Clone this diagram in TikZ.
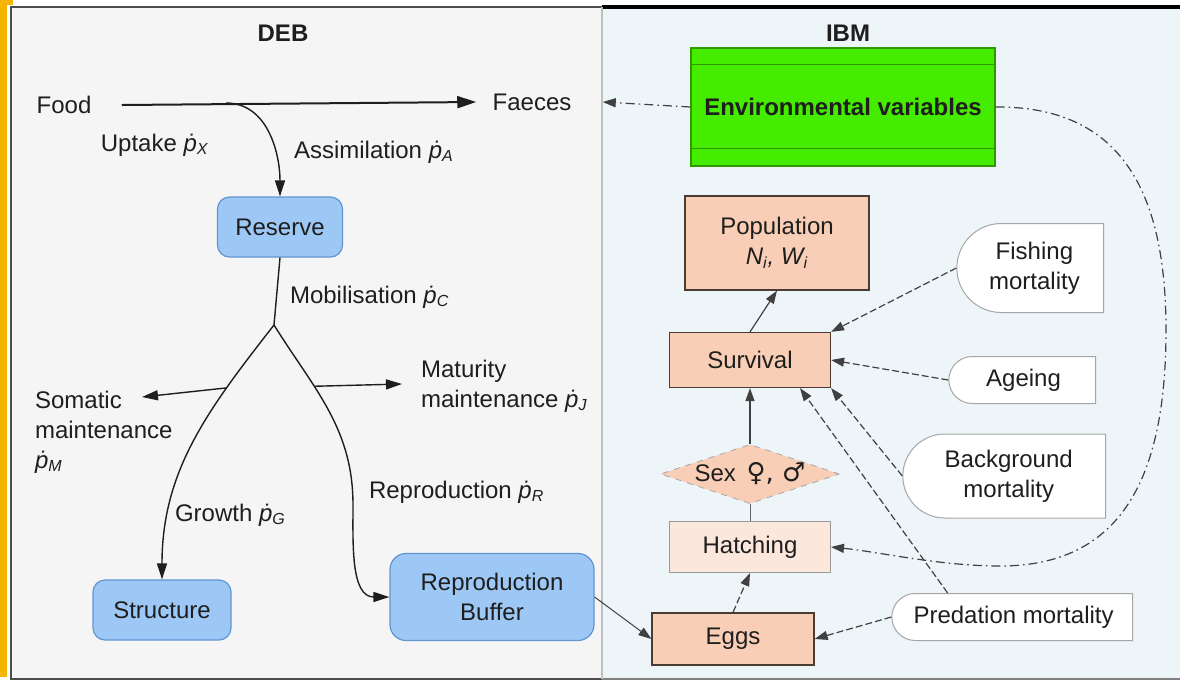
\documentclass[tikz,border=0pt]{standalone}
\usepackage{fontspec}
\setmainfont{Liberation Sans}
\newfontfamily\gendersym{DejaVu Sans}
\usetikzlibrary{positioning, shapes.geometric, shapes.misc, arrows.meta, calc}
\definecolor{debbg}{HTML}{F5F5F5}
\definecolor{ibmbg}{HTML}{EEF5F9}
\definecolor{frameyel}{HTML}{F5B400}
\definecolor{debblue}{HTML}{9DC8F6}
\definecolor{debedge}{HTML}{6195D2}
\definecolor{peach}{HTML}{F9CEB6}
\definecolor{peachlt}{HTML}{FCE7DC}
\definecolor{peachedge}{HTML}{4A3B33}
\definecolor{envgreen}{HTML}{46EC00}
\definecolor{envedge}{HTML}{2E9A00}
\definecolor{ink}{HTML}{1E1E1E}
\newcommand{\flux}[1]{\textit{\.p}\textsubscript{\textit{#1}}}

\begin{document}
\begin{tikzpicture}[x=0.5pt, y=-0.5pt,
  font=\fontsize{12}{15}\selectfont, text=ink,
  >={Triangle[length=6.5pt,width=4.5pt]},
  title/.style={font=\fontsize{12}{15}\selectfont\bfseries},
  debbox/.style={draw=debedge, fill=debblue, rounded corners=6pt, line width=0.6pt, align=center},
  ibmbox/.style={draw=peachedge, fill=peach, line width=0.6pt, align=center},
  hatchbox/.style={draw=gray!80, fill=peachlt, line width=0.5pt, minimum width=80.5pt, minimum height=25.5pt},
  sexbox/.style={diamond, shape aspect=3, inner sep=0pt, draw=gray!70, dashed, fill=peach,
                 minimum width=89.5pt, minimum height=29pt},
  risk/.style={rounded rectangle, rounded rectangle right arc=none, draw=gray!70, fill=white,
               align=center, line width=0.5pt, anchor=east},
  envbox/.style={draw=envedge, fill=envgreen, line width=0.6pt, font=\fontsize{12}{15}\selectfont\bfseries,
                 minimum width=152pt, minimum height=59pt},
  curve/.style={draw=ink, line width=0.7pt, -{Triangle[length=8pt,width=5pt]}},
  flow/.style={draw=ink!85, line width=0.6pt, ->},
  dep/.style={flow, dash pattern=on 3.5pt off 1.5pt},
  envlink/.style={flow, dash pattern=on 4.5pt off 2pt on 0.8pt off 2pt}
]
\useasboundingbox (0,0) rectangle (1180,682);
\fill[white] (0,0) rectangle (1180,682);
% panels
\fill[frameyel] (0,0) rectangle (7,677);
\fill[frameyel] (0,0) rectangle (13,5);
\filldraw[fill=debbg, draw=gray!60!black, line width=1pt] (11,7) rectangle (602,679);
\fill[ibmbg] (602,7) rectangle (1180,679);
\draw[black, line width=2pt] (602,7) -- (1180,7);
\draw[gray, line width=1pt] (602,679) -- (1180,679);
\draw[gray!50, line width=0.8pt] (602,7) -- (602,679);

\node[title] (deb) at (283,33) {DEB};
\node[title] (ibm) at (848,33) {IBM};

% DEB side
\node[inner xsep=15pt] (food) at (64,105) {Food};
\node[inner xsep=8pt] (faeces) at (532,102) {Faeces};
\node[debbox, minimum width=62.5pt, minimum height=30pt] (reserve) at (280,227) {Reserve};
\node[debbox, minimum width=69pt, minimum height=30pt] (structure) at (162,610) {Structure};
\node[debbox, minimum width=102pt, minimum height=43.5pt, rounded corners=8pt] (buffer) at (492,597) {Reproduction\\Buffer};

\node (uptake) at (155,145) {Uptake \flux{X}};
\node[anchor=west] (assim) at (287,152) {Assimilation \flux{A}};
\node[anchor=west] (mobil) at (283,297) {Mobilisation \flux{C}};
\node[anchor=west, align=left] (somatic) at (28,432) {Somatic\\maintenance\\\flux{M}};
\node[anchor=west, align=left] (maturity) at (414,386) {Maturity\\maintenance \flux{J}};
\node[anchor=west] (growth) at (168,515) {Growth \flux{G}};
\node[anchor=west] (repro) at (362,492) {Reproduction \flux{R}};

\coordinate (fork) at (226,103);
\coordinate (split) at (274,325);
\coordinate (somtip) at (142,397);
\coordinate (mattip) at (402,384);

\draw[curve, line width=1pt, -{Triangle[length=9.5pt,width=6pt]}] (food.east) -- (faeces.west);
\draw[curve] (fork) to[out=0, in=90] (reserve.north);
\draw[draw=ink, line width=0.7pt] (reserve.south) -- (split);
\draw[curve] (split) to[out=232, in=90] coordinate[pos=0.26] (somstart) (structure.north);
\draw[curve] (split) to[out=-58, in=90] coordinate[pos=0.35] (matstart) (353,505)
  to[out=-90, in=180] (buffer.west);
\draw[curve] (somstart) -- (somtip);
\draw[curve] (matstart) -- (mattip);

% IBM side
\node[envbox] (env) at (843,107) {Environmental variables};
\draw[envedge, line width=0.5pt] ([yshift=-8.5pt]env.north west) -- ([yshift=-8.5pt]env.north east);
\draw[envedge, line width=0.5pt] ([yshift=9pt]env.south west) -- ([yshift=9pt]env.south east);

\node[ibmbox, minimum width=92pt, minimum height=47pt] (population) at (777,243)
  {Population\\\textit{N\textsubscript{i}, W\textsubscript{i}}};
\node[ibmbox, minimum width=80.5pt, minimum height=27.5pt] (survival) at (750,360) {Survival};
\node[sexbox] (sex) at (750,474) {Sex\, {\gendersym\fontsize{13}{15}\selectfont ♀, ♂}};
\node[hatchbox] (hatching) at (750,547) {Hatching};
\node[ibmbox, minimum width=81pt, minimum height=26pt] (eggs) at (733,639) {Eggs};

\node[risk, minimum width=80pt, minimum height=44.5pt] (fishing) at (1104,268) {Fishing\\mortality};
\node[risk, minimum width=80pt, minimum height=23.5pt] (ageing) at (1096,380) {Ageing};
\node[risk, minimum width=108pt, minimum height=42pt] (background) at (1106,476) {Background\\mortality};
\node[risk, minimum width=127pt, minimum height=23.5pt] (predation) at (1133,617) {Predation mortality};

\draw[flow] (survival.north) -- (population.south);
\draw[flow] (sex.north) -- (survival.south);
\draw[draw=ink!70, line width=0.5pt] (hatching.north) -- (sex.south);
\draw[dep] (eggs.north) -- (hatching.south);
\draw[flow, line width=0.5pt] (buffer.east) -- (eggs.west);
\draw[dep] (fishing.west) -- (survival.north east);
\draw[dep] (ageing.west) -- (survival.east);
\draw[dep] (background.west) -- (survival.south east);
\draw[dep] (predation.160) -- ([xshift=25pt]survival.south);
\draw[dep] (predation.west) -- (eggs.east);

\draw[envlink] (env.west) -- ([xshift=7.5pt]faeces.east);
\draw[envlink] (env.east) .. controls (1120,106) and (1166,190) .. (1166,330)
  .. controls (1166,480) and (1120,566) .. (1000,566)
  .. controls (940,566) and (880,552) .. (hatching.east);
\end{tikzpicture}
\end{document}
